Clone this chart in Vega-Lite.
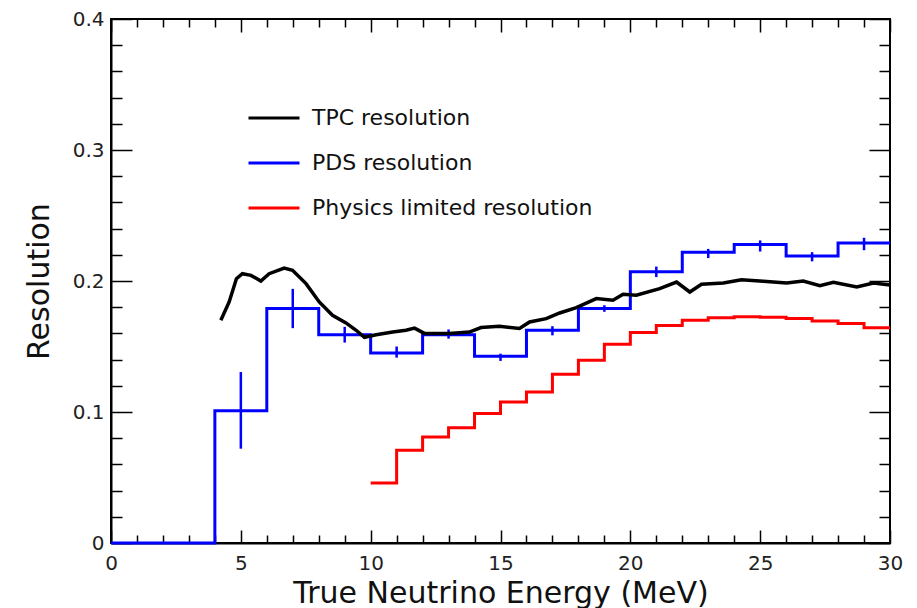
{
  "$schema": "https://vega.github.io/schema/vega-lite/v6.json",
  "width": 779,
  "height": 524,
  "autosize": {"type": "none"},
  "padding": {"left": 111, "top": 19, "right": 27, "bottom": 65},
  "background": "white",
  "config": {
    "view": {"stroke": "black", "strokeWidth": 2},
    "font": "DejaVu Sans",
    "axis": {"grid": false, "labelFlush": false, "labelOverlap": false, "tickColor": "black", "domainColor": "black", "labelColor": "#222", "titleColor": "#111", "labelFont": "DejaVu Sans", "titleFont": "DejaVu Sans", "titleFontWeight": "normal"}
  },
  "datasets": {
    "pds": [
      {"x": 0, "y": 0, "series": "PDS resolution"},
      {"x": 2, "y": 0, "series": "PDS resolution"},
      {"x": 4, "y": 0.101, "series": "PDS resolution"},
      {"x": 6, "y": 0.179, "series": "PDS resolution"},
      {"x": 8, "y": 0.159, "series": "PDS resolution"},
      {"x": 10, "y": 0.145, "series": "PDS resolution"},
      {"x": 12, "y": 0.159, "series": "PDS resolution"},
      {"x": 14, "y": 0.1425, "series": "PDS resolution"},
      {"x": 16, "y": 0.1624, "series": "PDS resolution"},
      {"x": 18, "y": 0.179, "series": "PDS resolution"},
      {"x": 20, "y": 0.207, "series": "PDS resolution"},
      {"x": 22, "y": 0.222, "series": "PDS resolution"},
      {"x": 24, "y": 0.2278, "series": "PDS resolution"},
      {"x": 26, "y": 0.219, "series": "PDS resolution"},
      {"x": 28, "y": 0.229, "series": "PDS resolution"},
      {"x": 30, "y": 0.229, "series": "PDS resolution"}
    ],
    "pdsErr": [
      {"x": 5, "lo": 0.072, "hi": 0.1305},
      {"x": 7, "lo": 0.164, "hi": 0.194},
      {"x": 9, "lo": 0.153, "hi": 0.165},
      {"x": 11, "lo": 0.1415, "hi": 0.150},
      {"x": 13, "lo": 0.156, "hi": 0.163},
      {"x": 15, "lo": 0.139, "hi": 0.1445},
      {"x": 17, "lo": 0.1585, "hi": 0.1655},
      {"x": 19, "lo": 0.1765, "hi": 0.1815},
      {"x": 21, "lo": 0.203, "hi": 0.211},
      {"x": 23, "lo": 0.2175, "hi": 0.2245},
      {"x": 25, "lo": 0.2225, "hi": 0.231},
      {"x": 27, "lo": 0.215, "hi": 0.222},
      {"x": 29, "lo": 0.2235, "hi": 0.233}
    ],
    "phys": [
      {"x": 10, "y": 0.0458, "series": "Physics limited resolution"},
      {"x": 11, "y": 0.0708, "series": "Physics limited resolution"},
      {"x": 12, "y": 0.081, "series": "Physics limited resolution"},
      {"x": 13, "y": 0.088, "series": "Physics limited resolution"},
      {"x": 14, "y": 0.0988, "series": "Physics limited resolution"},
      {"x": 15, "y": 0.1076, "series": "Physics limited resolution"},
      {"x": 16, "y": 0.1153, "series": "Physics limited resolution"},
      {"x": 17, "y": 0.1288, "series": "Physics limited resolution"},
      {"x": 18, "y": 0.1395, "series": "Physics limited resolution"},
      {"x": 19, "y": 0.1517, "series": "Physics limited resolution"},
      {"x": 20, "y": 0.1606, "series": "Physics limited resolution"},
      {"x": 21, "y": 0.166, "series": "Physics limited resolution"},
      {"x": 22, "y": 0.170, "series": "Physics limited resolution"},
      {"x": 23, "y": 0.172, "series": "Physics limited resolution"},
      {"x": 24, "y": 0.1728, "series": "Physics limited resolution"},
      {"x": 25, "y": 0.1723, "series": "Physics limited resolution"},
      {"x": 26, "y": 0.1713, "series": "Physics limited resolution"},
      {"x": 27, "y": 0.1695, "series": "Physics limited resolution"},
      {"x": 28, "y": 0.1675, "series": "Physics limited resolution"},
      {"x": 29, "y": 0.1644, "series": "Physics limited resolution"},
      {"x": 30, "y": 0.1644, "series": "Physics limited resolution"}
    ],
    "tpc": [
      {"x": 4.23, "y": 0.170, "series": "TPC resolution"},
      {"x": 4.55, "y": 0.184, "series": "TPC resolution"},
      {"x": 4.83, "y": 0.2018, "series": "TPC resolution"},
      {"x": 5.06, "y": 0.2056, "series": "TPC resolution"},
      {"x": 5.39, "y": 0.2043, "series": "TPC resolution"},
      {"x": 5.77, "y": 0.200, "series": "TPC resolution"},
      {"x": 6.09, "y": 0.2056, "series": "TPC resolution"},
      {"x": 6.67, "y": 0.2099, "series": "TPC resolution"},
      {"x": 6.99, "y": 0.2082, "series": "TPC resolution"},
      {"x": 7.51, "y": 0.198, "series": "TPC resolution"},
      {"x": 8.02, "y": 0.184, "series": "TPC resolution"},
      {"x": 8.53, "y": 0.1738, "series": "TPC resolution"},
      {"x": 9.05, "y": 0.168, "series": "TPC resolution"},
      {"x": 9.44, "y": 0.1624, "series": "TPC resolution"},
      {"x": 9.76, "y": 0.157, "series": "TPC resolution"},
      {"x": 10.21, "y": 0.159, "series": "TPC resolution"},
      {"x": 10.85, "y": 0.161, "series": "TPC resolution"},
      {"x": 11.36, "y": 0.1624, "series": "TPC resolution"},
      {"x": 11.69, "y": 0.164, "series": "TPC resolution"},
      {"x": 12.07, "y": 0.160, "series": "TPC resolution"},
      {"x": 13.03, "y": 0.160, "series": "TPC resolution"},
      {"x": 13.8, "y": 0.161, "series": "TPC resolution"},
      {"x": 14.25, "y": 0.1645, "series": "TPC resolution"},
      {"x": 14.96, "y": 0.1654, "series": "TPC resolution"},
      {"x": 15.73, "y": 0.1637, "series": "TPC resolution"},
      {"x": 16.12, "y": 0.1687, "series": "TPC resolution"},
      {"x": 16.76, "y": 0.1713, "series": "TPC resolution"},
      {"x": 17.28, "y": 0.1756, "series": "TPC resolution"},
      {"x": 17.92, "y": 0.1797, "series": "TPC resolution"},
      {"x": 18.69, "y": 0.1866, "series": "TPC resolution"},
      {"x": 19.33, "y": 0.1853, "series": "TPC resolution"},
      {"x": 19.72, "y": 0.1899, "series": "TPC resolution"},
      {"x": 20.23, "y": 0.1891, "series": "TPC resolution"},
      {"x": 21.13, "y": 0.1942, "series": "TPC resolution"},
      {"x": 21.78, "y": 0.1992, "series": "TPC resolution"},
      {"x": 22.29, "y": 0.1916, "series": "TPC resolution"},
      {"x": 22.74, "y": 0.1975, "series": "TPC resolution"},
      {"x": 23.58, "y": 0.1985, "series": "TPC resolution"},
      {"x": 24.28, "y": 0.201, "series": "TPC resolution"},
      {"x": 25.12, "y": 0.1998, "series": "TPC resolution"},
      {"x": 26.02, "y": 0.1985, "series": "TPC resolution"},
      {"x": 26.66, "y": 0.200, "series": "TPC resolution"},
      {"x": 27.3, "y": 0.1965, "series": "TPC resolution"},
      {"x": 27.82, "y": 0.199, "series": "TPC resolution"},
      {"x": 28.72, "y": 0.1954, "series": "TPC resolution"},
      {"x": 29.36, "y": 0.1985, "series": "TPC resolution"},
      {"x": 30, "y": 0.197, "series": "TPC resolution"}
    ]
  },
  "resolve": {"axis": {"x": "independent", "y": "independent"}},
  "layer": [
    {
      "data": {"name": "pds"},
      "mark": {"type": "line", "interpolate": "step-after", "strokeWidth": 3},
      "encoding": {
        "x": {"field": "x", "type": "quantitative", "scale": {"domain": [0, 30], "nice": false},
          "axis": {"orient": "bottom", "values": [0, 5, 10, 15, 20, 25, 30], "tickSize": -13, "tickWidth": 1.5, "domainWidth": 2, "labelPadding": 23, "labelFontSize": 20, "title": "True Neutrino Energy (MeV)", "titleFontSize": 30, "titlePadding": 5}},
        "y": {"field": "y", "type": "quantitative", "scale": {"domain": [0, 0.4], "nice": false},
          "axis": {"orient": "left", "values": [0, 0.1, 0.2, 0.3, 0.4], "format": "~g", "tickSize": -21, "tickWidth": 1.5, "domainWidth": 2, "labelPadding": 28, "labelFontSize": 20, "title": "Resolution", "titleFontSize": 30, "titlePadding": 18}},
        "color": {"field": "series", "type": "nominal",
          "scale": {"domain": ["TPC resolution", "PDS resolution", "Physics limited resolution"], "range": ["#000000", "#0000ff", "#ff0000"]},
          "legend": {"orient": "none", "legendX": 136, "legendY": 72, "title": null, "symbolType": "stroke", "symbolSize": 2601, "symbolStrokeWidth": 3, "labelFontSize": 22, "labelFont": "DejaVu Sans", "labelColor": "#111", "labelLimit": 0, "labelOffset": 11, "rowPadding": 7}}
      }
    },
    {
      "data": {"name": "pdsErr"},
      "mark": {"type": "rule", "color": "#0000ff", "strokeWidth": 2.5},
      "encoding": {
        "x": {"field": "x", "type": "quantitative", "scale": {"domain": [0, 30], "nice": false},
          "axis": {"orient": "bottom", "values": [1,2,3,4,6,7,8,9,11,12,13,14,16,17,18,19,21,22,23,24,26,27,28,29], "tickSize": -8, "tickWidth": 1.5, "labels": false, "domain": false, "title": null}},
        "y": {"field": "lo", "type": "quantitative", "scale": {"domain": [0, 0.4], "nice": false},
          "axis": {"orient": "left", "values": [0.02,0.04,0.06,0.08,0.12,0.14,0.16,0.18,0.22,0.24,0.26,0.28,0.32,0.34,0.36,0.38], "tickSize": -11, "tickWidth": 1.5, "labels": false, "domain": false, "title": null}},
        "y2": {"field": "hi"}
      }
    },
    {
      "data": {"name": "phys"},
      "mark": {"type": "line", "interpolate": "step-after", "strokeWidth": 3},
      "encoding": {
        "x": {"field": "x", "type": "quantitative", "scale": {"domain": [0, 30], "nice": false},
          "axis": {"orient": "top", "values": [0, 5, 10, 15, 20, 25, 30], "tickSize": -13, "tickWidth": 1.5, "labels": false, "domain": false, "title": null}},
        "y": {"field": "y", "type": "quantitative", "scale": {"domain": [0, 0.4], "nice": false},
          "axis": {"orient": "right", "values": [0, 0.1, 0.2, 0.3, 0.4], "tickSize": -21, "tickWidth": 1.5, "labels": false, "domain": false, "title": null}},
        "color": {"field": "series", "type": "nominal"}
      }
    },
    {
      "data": {"name": "tpc"},
      "mark": {"type": "line", "strokeWidth": 3.5},
      "encoding": {
        "x": {"field": "x", "type": "quantitative", "scale": {"domain": [0, 30], "nice": false},
          "axis": {"orient": "top", "values": [1,2,3,4,6,7,8,9,11,12,13,14,16,17,18,19,21,22,23,24,26,27,28,29], "tickSize": -8, "tickWidth": 1.5, "labels": false, "domain": false, "title": null}},
        "y": {"field": "y", "type": "quantitative", "scale": {"domain": [0, 0.4], "nice": false},
          "axis": {"orient": "right", "values": [0.02,0.04,0.06,0.08,0.12,0.14,0.16,0.18,0.22,0.24,0.26,0.28,0.32,0.34,0.36,0.38], "tickSize": -11, "tickWidth": 1.5, "labels": false, "domain": false, "title": null}},
        "color": {"field": "series", "type": "nominal"}
      }
    }
  ]
}
